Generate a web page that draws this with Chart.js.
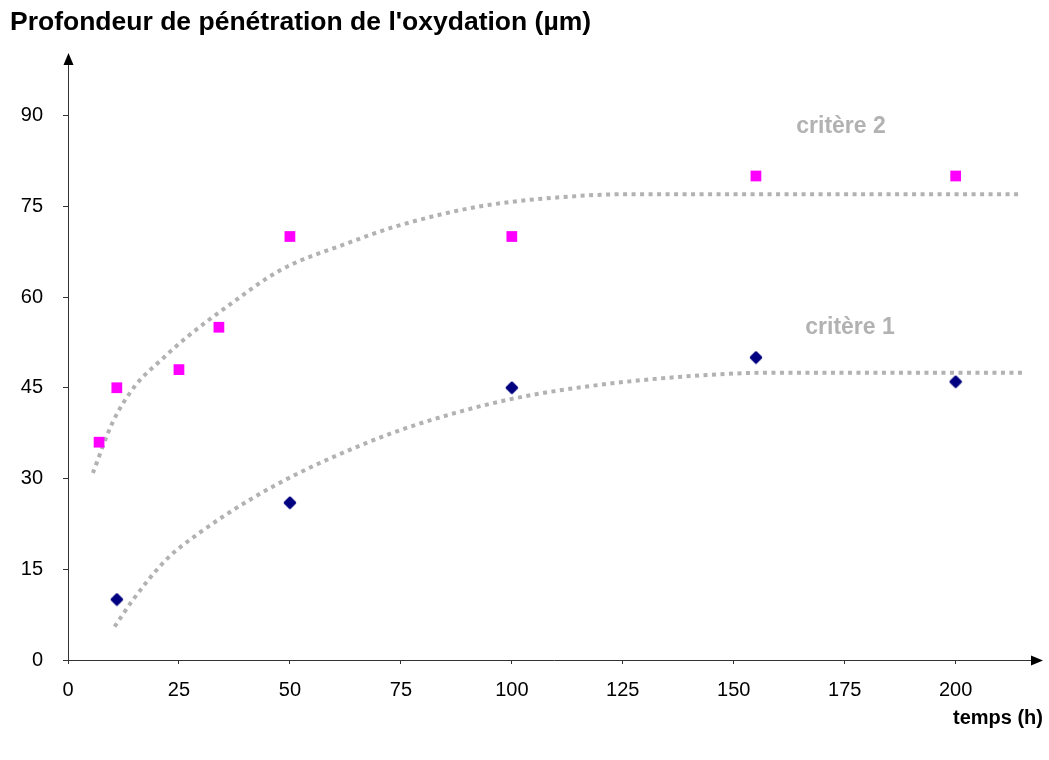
<!DOCTYPE html>
<html>
<head>
<meta charset="utf-8">
<script src="https://cdn.jsdelivr.net/npm/chart.js@4.4.0/dist/chart.umd.min.js"></script>
<style>
  body { margin: 0; background: #fff; }
  #box { width: 1049px; height: 760px; }
</style>
</head>
<body>
<div id="box"><canvas id="oxChart"></canvas></div>
<script>
// measured points
const crit2X = [7, 11, 25, 34, 50, 100, 155, 200];
const crit2Y = [36, 45, 48, 55, 70, 70, 80, 80];
const crit1X = [11, 50, 100, 155, 200];
const crit1Y = [10, 26, 45, 50, 46];

// trend curves
const trend2X = [5.6, 10, 15, 21, 27, 36, 48, 63, 74, 93, 115, 127, 215];
const trend2Y = [30.9, 39.2, 45.2, 49.6, 53.5, 58.5, 64.5, 68.9, 71.7, 75, 76.7, 77, 77];
const trend1X = [10.5, 14.6, 22, 29.6, 41, 52, 67, 78.5, 99, 120, 146, 160, 215];
const trend1Y = [5.5, 9.9, 16.5, 21, 26.5, 30.9, 35.8, 38.9, 43, 45.5, 47.2, 47.5, 47.5];

const xTicksMax = 200;
const yTicksMax = 90;

const FONT = 'Liberation Sans, Arial, sans-serif';

function pts(xs, ys) {
  return xs.map((x, i) => ({ x: x, y: ys[i] }));
}

// rounded navy diamond used as marker
function makeDiamond() {
  const c = document.createElement('canvas');
  c.width = 14; c.height = 14;
  const g = c.getContext('2d');
  g.fillStyle = '#000080';
  g.strokeStyle = '#000080';
  g.lineWidth = 2.5;
  g.lineJoin = 'round';
  g.beginPath();
  g.moveTo(7, 2);
  g.lineTo(12, 7);
  g.lineTo(7, 12);
  g.lineTo(2, 7);
  g.closePath();
  g.fill();
  g.stroke();
  return c;
}

// axis arrows + free texts
const decor = {
  id: 'decor',
  afterDraw(chart) {
    const ctx = chart.ctx;
    const a = chart.chartArea;
    const L = Math.round(a.left) + 0.5, B = Math.round(a.bottom) + 0.5;
    ctx.save();
    ctx.fillStyle = '#000';
    // y arrow
    ctx.beginPath();
    ctx.moveTo(L, a.top - 2);
    ctx.lineTo(L - 5, a.top + 10);
    ctx.lineTo(L + 5, a.top + 10);
    ctx.closePath();
    ctx.fill();
    // x arrow
    ctx.beginPath();
    ctx.moveTo(a.right + 3, B);
    ctx.lineTo(a.right - 9, B - 5);
    ctx.lineTo(a.right - 9, B + 5);
    ctx.closePath();
    ctx.fill();

    ctx.textBaseline = 'middle';
    ctx.font = 'bold 26.5px ' + FONT;
    ctx.textAlign = 'left';
    ctx.fillText("Profondeur de pénétration de l'oxydation (µm)", 10, 23);
    ctx.font = 'bold 20px ' + FONT;
    ctx.textAlign = 'right';
    ctx.fillText('temps (h)', 1043, 718);

    ctx.fillStyle = '#b2b2b2';
    ctx.font = 'bold 23px ' + FONT;
    ctx.textAlign = 'center';
    ctx.fillText('critère 2', 841, 127);
    ctx.fillText('critère 1', 850, 328);
    ctx.restore();
  }
};

const canvas = document.getElementById('oxChart');

new Chart(canvas, {
  type: 'scatter',
  data: {
    datasets: [
      {
        label: 'critère 2',
        data: pts(crit2X, crit2Y),
        pointStyle: 'rect',
        pointRadius: 7.6,
        pointBackgroundColor: '#ff00ff',
        pointBorderWidth: 0,
        showLine: false
      },
      {
        label: 'critère 1',
        data: pts(crit1X, crit1Y),
        pointStyle: makeDiamond(),
        pointRadius: 7,
        showLine: false
      },
      {
        label: 'tendance 2',
        data: pts(trend2X, trend2Y),
        showLine: true,
        borderColor: '#b2b2b2',
        borderWidth: 4,
        borderDash: [4, 4.5],
        borderCapStyle: 'butt',
        cubicInterpolationMode: 'monotone',
        pointRadius: 0
      },
      {
        label: 'tendance 1',
        data: pts(trend1X, trend1Y),
        showLine: true,
        borderColor: '#b2b2b2',
        borderWidth: 4,
        borderDash: [4, 4.5],
        borderCapStyle: 'butt',
        cubicInterpolationMode: 'monotone',
        pointRadius: 0
      }
    ]
  },
  options: {
    responsive: true,
    maintainAspectRatio: false,
    animation: false,
    layout: { padding: { top: 55, right: 9, left: 0, bottom: 0 } },
    plugins: {
      legend: { display: false },
      tooltip: { enabled: false }
    },
    scales: {
      x: {
        type: 'linear',
        min: 0,
        max: 219,
        afterBuildTicks: s => { s.ticks = s.ticks.filter(t => t.value <= xTicksMax); },
        afterFit: s => { s.height = 100; },
        ticks: {
          stepSize: 25,
          color: '#000',
          font: { family: FONT, size: 20 },
          padding: 14,
          maxRotation: 0
        },
        grid: {
          drawOnChartArea: false,
          drawTicks: true,
          tickLength: 4,
          color: '#333'
        },
        border: { color: '#333', width: 1 }
      },
      y: {
        min: 0,
        max: 100,
        afterBuildTicks: s => { s.ticks = s.ticks.filter(t => t.value <= yTicksMax); },
        afterFit: s => { s.width = 68; },
        ticks: {
          stepSize: 15,
          color: '#000',
          font: { family: FONT, size: 20 },
          padding: 20
        },
        grid: {
          drawOnChartArea: false,
          drawTicks: true,
          tickLength: 5,
          color: '#333'
        },
        border: { color: '#333', width: 1 }
      }
    }
  },
  plugins: [decor]
});
</script>
</body>
</html>
